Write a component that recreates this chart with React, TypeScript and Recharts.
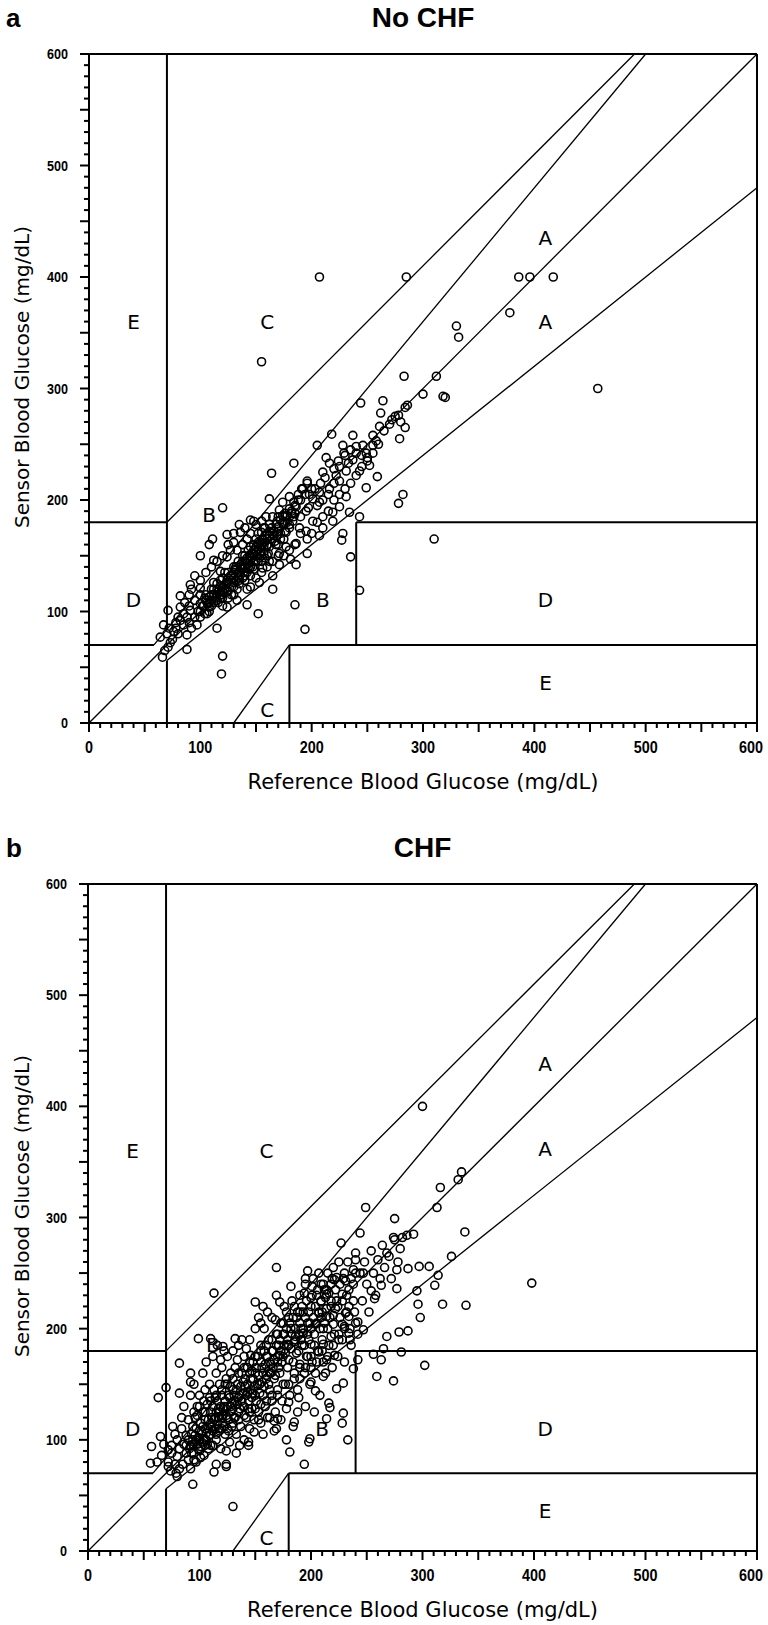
import React from "react"
import { ScatterChart, Scatter, XAxis, YAxis, ReferenceLine, ReferenceDot } from "recharts"

// axis labels (minor ticks every 10, long ticks every 50)
const axisLabels = [0, 100, 200, 300, 400, 500, 600]
const minorTicks = Array.from({ length: 61 }, (_, i) => i * 10)

// Clarke error grid boundaries [x1, y1, x2, y2]
const gridLines = [
  [0, 0, 600, 600],
  [0, 70, 175 / 3, 70],
  [175 / 3, 70, 500, 600],
  [70, 84, 70, 600],
  [0, 180, 70, 180],
  [70, 180, 490, 600],
  [70, 0, 70, 56],
  [70, 56, 600, 480],
  [180, 0, 180, 70],
  [180, 70, 600, 70],
  [240, 70, 240, 180],
  [240, 180, 600, 180],
  [130, 0, 180, 70],
]

const zoneLabelsA = [
  { x: 40, y: 360, t: "E" }, { x: 160, y: 360, t: "C" }, { x: 410, y: 435, t: "A" },
  { x: 410, y: 360, t: "A" }, { x: 108, y: 187, t: "B" }, { x: 40, y: 110, t: "D" },
  { x: 210, y: 110, t: "B" }, { x: 410, y: 110, t: "D" }, { x: 410, y: 36, t: "E" },
  { x: 160, y: 12, t: "C" },
]
const zoneLabelsB = [
  { x: 40, y: 360, t: "E" }, { x: 160, y: 360, t: "C" }, { x: 410, y: 438, t: "A" },
  { x: 410, y: 362, t: "A" }, { x: 112, y: 185, t: "B" }, { x: 40, y: 110, t: "D" },
  { x: 210, y: 110, t: "B" }, { x: 410, y: 110, t: "D" }, { x: 410, y: 36, t: "E" },
  { x: 160, y: 12, t: "C" },
]

// No CHF: [reference, sensor]
const noChfPoints = [
  [207,400],[285,400],[386,400],[396,400],[417,400],[378,368],[330,356],[332,346],[155,324],[457,300],
  [283,311],[312,311],[300,295],[320,292],[318,293],[244,287],[264,289],[262,278],[284,283],[278,276],
  [272,272],[280,270],[284,265],[279,255],[255,258],[258,253],[261,266],[218,259],[205,249],[184,233],
  [164,224],[162,201],[120,193],[111,165],[124,169],[95,132],[82,114],[71,101],[67,88],[64,77],
  [66,59],[68,65],[71,68],[88,66],[115,85],[120,60],[119,44],[152,98],[142,106],[165,120],
  [185,106],[194,84],[243,119],[235,149],[227,164],[228,170],[310,165],[278,197],[282,205],[243,185],
  [234,189],[219,189],[216,233],[228,249],[237,258],[246,249],[252,231],[259,221],[249,211],[231,203],
  [222,222],[213,238],[196,217],[191,210],[201,201],[207,207],[197,193],[185,188],[176,185],[174,198],
  [180,203],[159,185],[148,181],[155,171],[142,165],[133,155],[124,149],[136,142],[148,152],[160,159],
  [169,168],[177,171],[186,161],[181,147],[171,142],[156,139],[145,132],[130,126],[118,123],[108,113],
  [100,107],[91,101],[82,92],[76,82],[73,72],[140,139],[127,132],[115,110],[124,104],[133,110],
  [121,117],[106,98],[97,88],[88,79],[82,104],[91,124],[100,121],[112,126],[118,136],[112,146],
  [127,155],[130,162],[136,171],[145,182],[155,181],[169,181],[171,191],[183,181],[189,175],[196,165],
  [201,181],[210,185],[207,198],[216,210],[225,217],[231,226],[237,236],[240,242],[249,242],[255,249],
  [243,226],[225,194],[219,181],[207,168],[196,152],[186,142],[177,158],[171,152],[162,145],[165,132],
  [153,126],[142,120],[133,120],[124,126],[196,215],[200,210],[205,195],[210,200],[215,205],[220,215],
  [225,230],[230,240],[235,245],[240,248],[245,240],[250,238],[255,242],[260,250],[265,262],[270,268],
  [275,275],[286,285],[150,150],[152,155],[155,160],[158,148],[160,165],[145,158],[148,145],[140,150],
  [138,160],[152,170],[157,175],[162,178],[165,170],[168,160],[172,165],[175,178],[178,180],[180,175],
  [182,190],[185,195],[188,200],[190,185],[195,190],[198,205],[203,210],[208,215],[212,220],[210,225],
  [220,228],[224,235],[229,242],[233,233],[120,105],[125,112],[130,115],[135,125],[140,128],[145,122],
  [150,130],[155,135],[160,140],[165,145],[170,150],[175,150],[180,155],[185,160],[190,170],[195,172],
  [200,170],[205,180],[210,175],[215,190],[220,200],[225,205],[230,210],[235,215],[240,222],[245,230],
  [250,235],[75,75],[78,85],[80,80],[85,88],[88,95],[90,90],[92,85],[95,95],[98,100],[100,95],
  [103,105],[105,110],[108,100],[110,115],[112,108],[115,120],[118,112],[120,118],[123,125],[125,130],
  [128,122],[130,135],[132,140],[135,130],[138,145],[140,135],[143,140],[145,145],[100,115],[95,110],
  [90,105],[85,98],[80,95],[78,90],[70,80],[72,85],[100,128],[105,135],[110,140],[115,145],
  [120,150],[125,160],[130,170],[135,178],[140,175],[145,170],[150,178],[100,150],[108,160],[90,115],
  [86,108],[92,120],[100,100],[102,105],[104,98],[106,108],[108,104],[110,110],[112,115],[114,112],
  [116,118],[118,115],[120,122],[122,120],[124,128],[126,125],[128,132],[130,130],[132,137],[134,135],
  [136,140],[138,138],[140,145],[142,143],[144,150],[146,148],[148,155],[150,153],[152,160],[154,158],
  [156,165],[158,162],[160,170],[162,168],[164,175],[166,172],[168,178],[170,176],[172,182],[174,180],
  [176,188],[178,186],[180,192],[182,188],[184,198],[186,194],[188,205],[190,200],[192,210],[194,205],
  [145,150],[150,145],[155,150],[150,165],[155,145],[160,150],[145,140],[140,140],[135,135],[130,140],
  [125,135],[120,130],[115,125],[110,120],[105,115],[110,105],[115,115],[120,112],[125,118],[130,122],
  [135,128],[140,132],[160,160],[165,165],[170,160],[175,165],[170,185],[165,185],[158,175],[152,162],
  [148,160],[143,155],[118,128],[122,135],[127,128],[131,138],[134,145],[138,150],[142,148],[146,152],
  [150,158],[154,162],[158,168],[162,172],[138,130],[142,135],[147,140],[152,145],[157,152],[162,158],
  [167,163],[172,170],[176,172],[180,178],[184,185],[112,120],[108,108],[104,112],[116,108],[120,115],
  [124,118],[128,115],[132,128],[136,133],[144,138],[148,138],[153,148],[157,158],[161,152],[166,168],
  [170,172],[174,186],
]

// CHF: [reference, sensor]
const chfPoints = [
  [300,400],[113,232],[335,341],[332,334],[316,327],[313,309],[249,309],[275,299],[338,287],[326,265],
  [398,241],[339,221],[318,222],[296,222],[298,210],[287,198],[279,197],[268,193],[265,182],[256,177],
  [263,172],[281,179],[302,167],[259,157],[274,153],[242,172],[238,164],[233,100],[229,124],[228,115],
  [199,101],[198,98],[194,78],[181,89],[178,100],[185,116],[169,110],[167,117],[153,118],[144,95],
  [133,88],[124,76],[113,71],[130,40],[94,60],[80,67],[56,79],[57,94],[63,138],[70,147],
  [82,169],[92,160],[92,152],[82,142],[99,191],[110,191],[121,184],[132,191],[65,103],[72,91],
  [150,224],[157,220],[169,255],[169,230],[172,224],[155,205],[168,208],[197,252],[195,245],[194,232],
  [201,238],[227,277],[240,268],[244,286],[268,268],[274,282],[282,282],[286,284],[292,285],[280,272],
  [287,254],[297,256],[306,256],[277,253],[314,248],[311,239],[295,234],[277,236],[254,234],[263,239],
  [257,227],[247,250],[238,253],[231,243],[223,246],[234,220],[242,206],[247,199],[234,196],[230,202],
  [72,76],[115,78],[124,78],[149,107],[163,120],[170,119],[180,134],[189,138],[200,152],[211,157],
  [216,133],[217,129],[214,119],[204,144],[223,146],[229,151],[200,228],[209,224],[214,231],[218,220],
  [207,214],[214,211],[222,218],[204,204],[211,200],[220,204],[214,235],[209,240],[221,244],[228,231],
  [231,214],[228,204],[234,211],[193,196],[200,186],[207,179],[214,172],[221,176],[197,175],[190,168],
  [200,165],[211,186],[218,193],[225,190],[186,193],[179,186],[172,176],
  [72,80],[75,88],[75,95],[78,78],[80,85],[80,100],[82,92],[84,110],[85,78],[86,96],
  [88,88],[88,104],[90,82],[90,118],[84,120],[78,105],[74,72],[79,70],[68,96],[66,86],
  [62,80],[76,112],[82,74],[86,130],[92,74],[92,95],[93,105],[94,112],[95,88],[96,120],
  [97,100],[98,130],[99,92],[100,108],[100,140],[101,115],[102,98],[103,125],[104,86],[105,110],
  [105,145],[106,100],[107,132],[108,118],[108,92],[109,150],[110,105],[110,125],[92,140],[95,150],
  [97,80],[101,84],[103,160],[106,170],[104,135],[109,138],[98,122],[94,100],[111,112],[112,95],
  [112,130],[113,145],[114,120],[115,100],[115,160],[116,135],[117,110],[118,150],[118,125],[119,92],
  [120,140],[120,165],[121,115],[122,130],[123,105],[124,155],[125,120],[125,175],[126,140],[127,98],
  [128,130],[128,160],[129,112],[130,145],[130,180],[112,175],[116,185],[119,172],[122,180],[124,90],
  [126,108],[128,148],[114,138],[117,128],[121,122],[123,150],[131,120],[132,135],[132,165],[133,105],
  [134,150],[135,125],[135,185],[136,140],[137,112],[138,160],[139,130],[140,175],[140,100],[141,148],
  [142,120],[143,165],[144,135],[145,190],[145,110],[146,155],[147,128],[148,170],[148,142],[149,118],
  [150,160],[150,200],[134,172],[138,190],[142,182],[146,176],[136,95],[144,98],[139,152],[143,143],
  [147,162],[151,135],[152,175],[153,125],[154,150],[155,185],[155,115],[156,165],[157,140],[158,200],
  [159,130],[160,175],[160,155],[161,120],[162,190],[163,145],[164,168],[165,210],[165,135],[166,180],
  [167,155],[168,125],[169,195],[170,170],[170,145],[153,210],[157,105],[161,215],[167,108],[163,160],
  [158,180],[171,185],[172,160],[173,205],[174,135],[175,175],[176,195],[177,150],[178,215],[179,165],
  [180,185],[181,140],[182,200],[183,225],[184,170],[185,155],[186,190],[187,210],[188,145],[189,180],
  [190,230],[190,165],[173,118],[178,128],[184,112],[188,125],[176,220],[182,238],[191,200],[192,185],
  [193,215],[194,160],[195,240],[196,175],[197,205],[198,190],[199,150],[200,220],[201,170],[202,245],
  [203,195],[204,160],[205,230],[206,180],[207,250],[208,140],[209,210],[210,190],[195,130],[203,125],
  [211,170],[212,235],[213,160],[215,250],[216,185],[218,240],[219,165],[220,255],[221,195],[223,225],
  [224,175],[225,260],[226,210],[228,190],[229,245],[230,170],[232,230],[233,260],[235,200],[236,185],
  [238,240],[239,215],[240,262],[242,195],[244,250],[246,225],[248,260],[250,240],[252,215],[254,270],
  [256,250],[258,230],[260,262],[262,245],[264,275],[266,255],[270,265],[272,245],[275,280],[278,260],
  [88,95],[90,100],[91,92],[93,88],[94,96],[96,104],[97,110],[98,96],[99,102],[100,100],
  [101,94],[102,108],[103,112],[104,100],[105,118],[106,106],[107,96],[108,110],[109,104],[110,115],
  [111,120],[112,108],[113,118],[114,110],[115,125],[116,114],[117,120],[118,108],[119,130],[120,120],
  [121,128],[122,112],[123,135],[124,122],[125,130],[126,118],[127,138],[128,125],[129,133],[130,128],
  [131,140],[132,120],[133,145],[134,132],[135,138],[136,128],[137,148],[138,135],[139,142],[140,130],
  [141,155],[142,140],[143,150],[144,128],[145,160],[146,145],[147,138],[148,155],[149,148],[150,140],
  [151,165],[152,150],[153,158],[154,142],[155,170],[156,152],[157,160],[158,148],[159,168],[160,158],
  [161,175],[162,150],[163,170],[164,160],[165,180],[166,165],[167,172],[168,158],[169,185],[170,175],
  [171,165],[172,190],[173,180],[174,170],[175,195],[176,185],[177,178],[178,200],[179,190],[180,172],
  [181,205],[182,182],[183,195],[184,210],[185,188],[186,200],[187,178],[188,215],[189,195],[190,205],
  [191,190],[192,220],[193,200],[194,185],[195,210],[196,225],[197,195],[198,215],[199,205],[200,200],
  [201,230],[202,210],[203,185],[204,220],[205,205],[206,235],[207,215],[208,200],[209,225],[210,215],
  [211,240],[212,205],[213,228],[214,218],[215,200],[216,232],[217,210],[218,225],[219,245],[220,212],
  [222,235],[224,220],[226,240],[228,225],[230,250],[232,215],[234,235],[236,245],[238,225],[240,250],
  [95,125],[100,130],[105,125],[110,135],[115,140],[120,145],[125,150],[130,155],[135,160],[140,165],
  [145,170],[150,175],[155,180],[160,185],[165,190],[170,195],[175,205],[180,210],[185,220],[190,215],
  [95,82],[100,90],[105,95],[110,95],[115,105],[120,110],[125,110],[130,115],[135,118],[140,122],
  [145,125],[150,128],[155,132],[160,135],[165,140],[170,140],[175,150],[180,150],[185,160],[190,155],
  [195,165],[200,175],[205,170],[210,180],[215,175],[220,185],[225,195],[230,200],[235,190],[240,205],
]

const TICK_FONT = "'Liberation Sans', Arial, sans-serif"
const LABEL_FONT = "'DejaVu Sans', Verdana, sans-serif"
const TITLE_FONT = "'Liberation Sans', Arial, sans-serif"

function XTick(props: any) {
  const { x, y, payload } = props
  const v = payload.value
  const major = v % 50 === 0
  const label = axisLabels.includes(v)
  const len = String(v).length * 8
  return (
    <g>
      <line x1={x} x2={x} y1={y} y2={y + (major ? 9 : 5)} stroke="#000" strokeWidth={2} />
      {label && (
        <text x={v === 600 ? x - 6 : x} y={y + 30} textAnchor="middle" fontFamily={TICK_FONT} fontWeight={700}
          fontSize={16} fill="#000" textLength={len} lengthAdjust="spacingAndGlyphs">
          {v}
        </text>
      )}
    </g>
  )
}

function YTick(props: any) {
  const { x, y, payload } = props
  const v = payload.value
  const major = v % 50 === 0
  const label = axisLabels.includes(v)
  const len = String(v).length * 7
  return (
    <g>
      <line x1={x - (major ? 9 : 5)} x2={x} y1={y} y2={y} stroke="#000" strokeWidth={2} />
      {label && (
        <text x={x - 21} y={y + 5} textAnchor="end" fontFamily={TICK_FONT} fontWeight={700} fontSize={15}
          fill="#000" textLength={len} lengthAdjust="spacingAndGlyphs">
          {v}
        </text>
      )}
    </g>
  )
}

const ring = (p: any) => <circle cx={p.cx} cy={p.cy} r={4} fill="none" stroke="#000" strokeWidth={1.6} />

interface PanelProps {
  letter: string
  title: string
  points: number[][]
  zones: { x: number; y: number; t: string }[]
  height: number
  top: number
  left: number
  bottom: number
  titleY: number
}

function Panel({ letter, title, points, zones, height, top, left, bottom, titleY }: PanelProps) {
  const data = points.map(([x, y]) => ({ x, y }))
  const plotBottom = height - bottom - 60
  return (
    <div style={{ position: "relative", width: 768, height }}>
      <div style={{ position: "absolute", left: 6, top: titleY - 16, fontFamily: TITLE_FONT, fontWeight: 700, fontSize: 26, lineHeight: "32px" }}>
        {letter}
      </div>
      <div style={{ position: "absolute", left: left, width: 757 - left, top: titleY - 16, textAlign: "center", fontFamily: TITLE_FONT, fontWeight: 700, fontSize: 28, lineHeight: "32px" }}>
        {title}
      </div>
      <ScatterChart width={768} height={height} margin={{ top, right: 11, left: left - 60, bottom }}>
        <XAxis type="number" dataKey="x" domain={[0, 600]} ticks={minorTicks} interval={0} tick={<XTick />}
          tickLine={false} tickSize={0} tickMargin={0} height={60} axisLine={{ stroke: "#000", strokeWidth: 2 }} allowDataOverflow />
        <YAxis type="number" dataKey="y" domain={[0, 600]} ticks={minorTicks} interval={0} tick={<YTick />}
          tickLine={false} tickSize={0} tickMargin={0} width={60} axisLine={{ stroke: "#000", strokeWidth: 2 }} allowDataOverflow />
        {gridLines.map((s, i) => (
          <ReferenceLine key={i} segment={[{ x: s[0], y: s[1] }, { x: s[2], y: s[3] }]} stroke="#000"
            strokeWidth={s[0] === s[2] || s[1] === s[3] ? 2 : 1.3} ifOverflow="visible" />
        ))}
        <ReferenceLine y={600} stroke="#000" strokeWidth={2} />
        <ReferenceLine x={600} stroke="#000" strokeWidth={2} />
        {zones.map((z, i) => (
          <ReferenceDot key={"z" + i} x={z.x} y={z.y} r={0} fill="none" stroke="none"
            label={{ value: z.t, position: "center", fill: "#000", fontSize: 20, fontFamily: LABEL_FONT }} />
        ))}
        <Scatter data={data} shape={ring} isAnimationActive={false} />
      </ScatterChart>
      <div style={{ position: "absolute", left: 22, top: (top + plotBottom) / 2 - 12, transform: "translate(-50%, -50%) rotate(-90deg)", whiteSpace: "nowrap", fontFamily: LABEL_FONT, fontSize: 20 }}>
        Sensor Blood Glucose (mg/dL)
      </div>
      <div style={{ position: "absolute", left: left, width: 757 - left, top: plotBottom + 47, textAlign: "center", fontFamily: LABEL_FONT, fontSize: 21, lineHeight: "24px" }}>
        Reference Blood Glucose (mg/dL)
      </div>
    </div>
  )
}

export default function App() {
  return (
    <div style={{ position: "absolute", left: 0, top: 0, width: 768, height: 1625, background: "#fff" }}>
      <Panel letter="a" title="No CHF" points={noChfPoints} zones={zoneLabelsA} height={812} top={54} left={89} bottom={29} titleY={18} />
      <Panel letter="b" title="CHF" points={chfPoints} zones={zoneLabelsB} height={813} top={72} left={88} bottom={14} titleY={36} />
    </div>
  )
}
